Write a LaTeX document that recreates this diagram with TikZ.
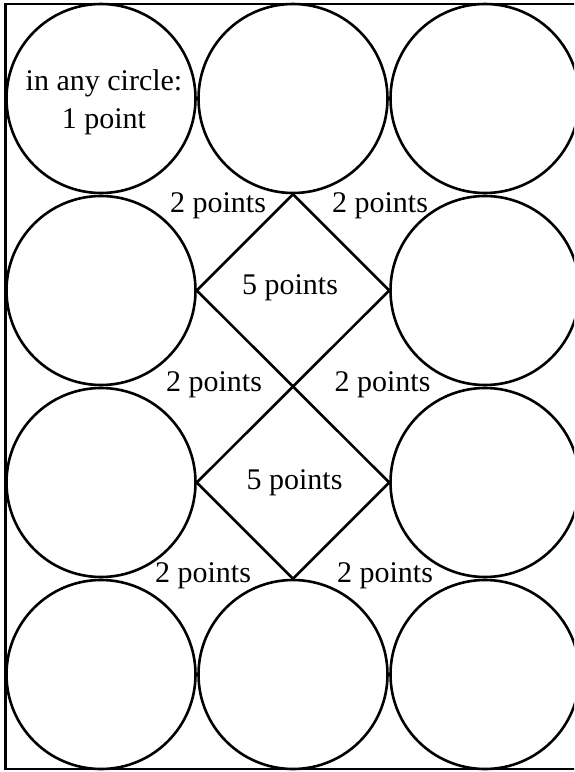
\documentclass[tikz,border=0pt]{standalone}
\usepackage{fontspec}
\setmainfont{Liberation Serif}
\usepackage{tikz}
\usetikzlibrary{positioning}

\tikzset{
  ring/.style={draw, circle, minimum size=94.5pt, inner sep=0pt, line width=1.3pt},
  score/.style={font=\fontsize{15}{19}\selectfont, inner sep=1pt, align=center}
}

\begin{document}
\begin{tikzpicture}[x=0.5pt, y=-0.5pt, line width=1.3pt]
    % 1. Page size and frame (cut off on the right)
    \useasboundingbox (0,0) rectangle (574,772);
    \clip (0,0) rectangle (574,772);
    \draw (5.5,4) rectangle (600,769);

    % 2. Circles: full rows at top and bottom, only the sides in between
    \foreach \col/\x in {1/101, 2/293, 3/485} {
        \node[ring] (c1\col) at (\x,98.5) {};
        \node[ring] (c4\col) at (\x,674.5) {};
    }
    \node[ring] (c21) at (101,290.5) {};
    \node[ring] (c23) at (485,290.5) {};
    \node[ring] (c31) at (101,482.5) {};
    \node[ring] (c33) at (485,482.5) {};

    % 3. The two squares between the circles
    \draw (c12.south) -- (c21.east) -- (c33.west) -- (c42.north);
    \draw (c12.south) -- (c23.west) -- (c31.east) -- (c42.north);

    % 4. Scores
    \node[score] (any) at (104,102) {in any circle:\\1 point};
    \node[score] (sq1) at (290,288) {5 points};
    \node[score] (sq2) at (294.5,483) {5 points};
    \node[score] (tl) at (218,206) {2 points};
    \node[score] (tr) at (380,206) {2 points};
    \node[score] (ml) at (214,385) {2 points};
    \node[score] (mr) at (382.5,385) {2 points};
    \node[score] (bl) at (203,576) {2 points};
    \node[score] (br) at (385,576) {2 points};
\end{tikzpicture}
\end{document}
